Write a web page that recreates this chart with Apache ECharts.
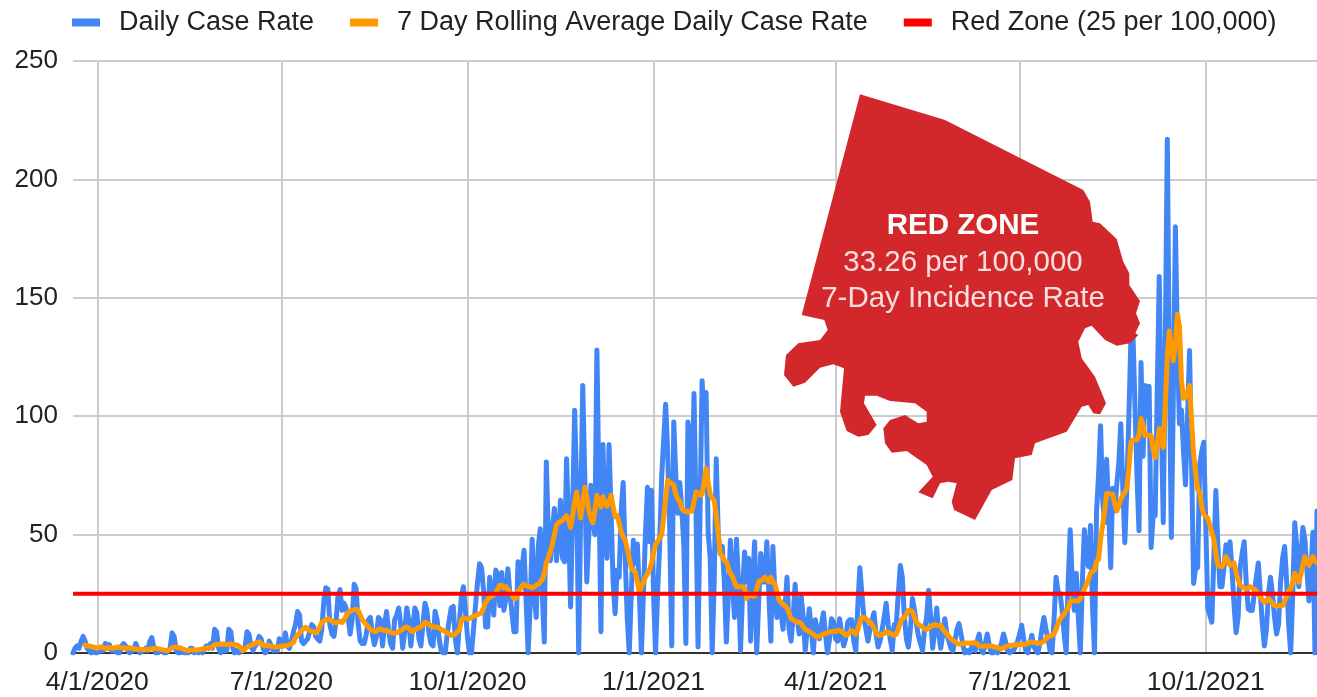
<!DOCTYPE html>
<html><head><meta charset="utf-8">
<style>html,body{margin:0;padding:0;background:#fff}#c{width:1317px;height:697px}</style>
<script src="https://cdn.jsdelivr.net/npm/echarts@6/dist/echarts.min.js"></script>
</head><body><div id="c"></div>
<script>
const firstDay = [2020, 2, 20];
const tickLabels = ['4/1/2020','7/1/2020','10/1/2020','1/1/2021','4/1/2021','7/1/2021','10/1/2021'];
const dailyCaseRate = [
0,2,3,2,5,7,5,2,1,0,
1,0,0,1,1,1,4,2,3.5,1,
1,1,0,0,3,4,3,1,0,1,
1,4,2,0,1,1,2,1,5,6.5,
2,0,0,1,1,0,0,1,2,8.5,
7,1,0,0,1,0,0,0,2,2,
0,1,0,1,0,2,3,2,4,2,
10,9,2,0,2,1,1,10,9,2,
0,1,0,2,1,2,9,8,3,1,
3,4,7,6,2,0,1,5,3,1,
2,1,6,3,3,8.5,3,2,5,9,
12,17.5,16,5,4,5,6,9,12,11,
7,6,5,10,22,27.5,27,12,8,7,
13,24,26.8,18,21,19,15,8,14,29,
27,12,5,4,4,8,14,15,8,3.5,
7,15,14,3,12,17.5,10,4,2,14,
16,19,12,2,9,19,14,3,11,
19,17,6,3,12,21,18,8,4,3,
17.6,14,6,1,0,0,8,14,19,19.7,
6,0,12,24,28,18,7,0,0,10,
20,30,37.7,36,26,11,11,32,24,16,
35,33,20,34,18,23,35.6,25,17,9,
9,38.5,30,36,43.4,22,0,20,48,25,
15,45,52.5,25,4.6,80.7,50,39,52,61,
39,48,64.5,40,38.5,82,55,19.4,60,102.5,
70,0,60,113,75,30,50,70.8,55,50,
128,70,9,88,55,40,88,60,30,16.6,
35,32,60,72,40,15,0,25,47.6,38,
46,25,0,25,50,70,47,68.7,25,0,
25,45,74,90,105,85,52,3,97.6,75,
59,72,60,45,4,97.6,90,60,109.6,60,
2.5,60,115,100,110,51,40,0,30,82,
50,42,45,30,4.6,25,47.6,30,15,48,
30,1,25,42.7,30,40,5,30,47,0,
22,42,30,30,47,25,5,45,25,15,
20,18,10,20,32,10,5,15,29,15,
8,24,15,1,10,18.7,10,0,14,9,
6,12,17,8,0,6,14.5,13,6,5,
14.5,8,3,6,13,14,14,5,1,20,
36,25,15,10,5,10,14,17,8,2.5,
5,10,15,21,12,6,1,12,12,25,
37,32,15,6,2.5,10,23,18,12,7,
4,1,10,15,26.5,15,2,10,19,8,
2,8,14.5,8,5,2,1,5,10,12.4,
8,3,0,1,0,2,4,1,5,8,
1,0,4,8,3,0,0,1,0,2,
4,8,5,1,0,1,1,3,5,8,
11.7,6,1,0,4,7.5,3,1,0,4,
10,15,10,6,1,0,14,32,26,
25,18,8,0,30,52,30,18,33.7,15,
0,30,52,40,36.6,53.8,20,0,59.5,75,
96,65,55,81.8,60,36,69.6,60,71,80,
96.8,70,46.6,70,100,132.7,135,105,75,51.6,
122.7,83,113,100,112.6,44.5,58,58,110,159,
100,55,130,217,120,48.8,110,180,130,96.8,
102.6,85,71,100,127.7,80,29.4,36,36,79.6,
85,89,55,19,16,13,40,68.6,45,28,
28,36,45.7,38,47,35,20,8.6,15,36,
42,47,30,18.6,18,18,25,32,38,25,
12,3,10,25,32,25,15,8,12,30,
40,45,30,12,0,25,55,45,28,40,
53,48,35,22,35,51,0,60
];
const rollingAverage = [
null,null,null,null,null,null,3.3,3,3,2.8,
2.5,2.3,2.1,2.4,2.6,2.2,2,2.1,2.4,2,
2,2.3,2.5,2.4,2.2,2.1,1.9,2.1,2.2,2,
1.8,1.7,1.6,1.6,1.5,1.4,1.5,1.6,1.7,1.8,
1.9,2,1.8,1.6,1.4,1.2,1,1.1,1.5,2.3,
2.5,2.5,2.3,2.2,1.8,1.4,1.2,1.1,1.2,1.4,
1.3,1.3,1.4,1.5,1.7,1.9,2,2.2,2.4,2.6,
3.5,3.6,3.6,3.7,3.8,3.7,3.6,3.7,3.8,3.6,
3.5,3.4,3,2,1,1.8,2.5,3,3.2,3.5,
4,4.5,4.7,4,3.2,3,3.3,3.2,2.8,2.6,
2.5,2.7,2.6,2.9,3.1,3,3.2,3.6,4,4.5,
6.5,7.5,8.5,9.5,10.3,10.8,10,9.5,9.2,9,
8.5,9.5,11,13,13.5,14,14.5,14,13.5,13,
12.7,13,13.5,12.8,14,15.5,17,17.6,18,18.2,
18.5,18,16,14,13,12,11,10,9.5,9,
9.2,10,10.2,9.8,9.5,9.6,9.2,8.8,8.5,8.3,
8.5,9,9.5,10,10.8,11,10.5,9.5,9,
9.8,10.3,10.8,11,12,13,12.5,12,11.5,11,
11,11,10.5,10,9.5,9,8.5,8,7.5,7.5,
8,9,9.5,14,14.8,14.5,14.3,14.5,15,15.5,
15.8,16.2,16.6,17,19,21.5,22.5,23.5,24,24.5,
25.5,27,28.6,28.5,27.5,28,27,25.5,24.5,23,
23,26,27,28,29,28.5,28,28,27.5,28,
28.6,29,30,31,33.5,38,40.5,43,46,50,
54,55,55.5,56,57,58,56,53,58,64,
68,62,57,63,70,66,60,57,55,60,
66.6,64,61.7,66,63,62,64,66.6,62,57.5,
58,55,51,49,47.6,44,40,36,35,34,
30,25.8,28,30,32,33.5,35,38,42,46,
47,48.5,50,57,65,73,72,71.5,71,67,
65,64,61,60,60,59.5,60,60,64,68,
67.5,66.6,67,72,78,72,67,65.5,64.5,58,
50,42,41,39,38.5,36,33.5,32.5,30,28,
28,28,28,27.5,23,25,24.5,24,24,27,
30,30.7,31,32,31,30,32,30,29,26,
22.5,21.5,20.5,20,19,17,14.5,14,13.5,13,
13,12.4,11,10,9.5,9,8.5,8,7,6.8,
7,7.5,8,8.2,8.5,8.8,9,9.2,9,9.6,
9.4,9,8.5,7.5,7.8,8.8,9.3,8.8,8,10,
13,15,15,14.5,13.5,13,12,10.5,8.5,7.5,
7.5,8,8.2,9,8.8,8.2,7.8,7.5,8,10,
13,14.5,15,16.5,18,18,17.5,15,13,12,
11.5,11,10.2,10,10.5,11,11.7,12,11.7,11.5,
11.7,10,9,8,7,6,5.4,4.8,4,3.7,
3.8,4,4.2,4.2,4.1,4.2,4.3,4.2,4,3,
2.8,2.8,3,3,3,3,2.8,2.5,2.2,2,
1.8,2.2,2.6,3,3.2,3.3,3.4,3.5,3.5,3.7,
3.6,3.7,3.7,4,4.6,4.6,4.4,4.3,4.2,4.2,
4.4,5,6,7,7.2,7.5,8,10,12.5,
14.3,15.5,16.5,18,19,22,22,22,22,22,
23,25,27,29,31,33.7,34.5,35,38.7,39.5,
48,53.8,60,67.4,67.5,67,67,63,60,62,
65,66.5,68,69.6,78,89,90,90,90,92,
99,96,91.8,91.8,91.8,91.8,86,82.5,88,94.7,
90,86.8,105,125,136,128,123.4,130,143,138,
115,107.6,108,110,113,98,84,76,69,68,
62,58.6,57.5,57,54,51,48,42,37,36.6,
36.4,38,40.7,39,37,37.5,38,34,31,28.6,
28,27.5,27,27.5,28,27.5,27,26,25,23.5,
22.5,21.4,22,23,22,21,20,20,20,20,
20,22,24,26.4,27,30,33.6,32,30,33,
37,40.7,38.5,37,39,40.7,39,38
];
const redZoneLevel = 25;
const seriesNames = ['Daily Case Rate','7 Day Rolling Average Daily Case Rate','Red Zone (25 per 100,000)'];
const calloutLines = ['RED ZONE','33.26 per 100,000','7-Day Incidence Rate'];
const mapOutline = [[860,94.3],[945,120],[1083.3,190],[1090,201.7],[1092.7,221.7],[1100,223.3],[1116.7,239],[1123.3,261.7],[1129.3,273.3],[1129.3,285],[1140,301],[1136,313.3],[1140,323.3],[1135.3,333.3],[1138.3,335],[1130,343.3],[1116.7,345.7],[1105,340],[1091.7,325.7],[1085,328.3],[1078.3,341.7],[1081.7,358.3],[1095,376.7],[1106,403.3],[1100,414.3],[1093.3,413.3],[1088.3,405],[1081.7,406.7],[1066.7,431.7],[1035,443.3],[1031.7,455],[1015,458.3],[1012.3,480],[991.7,490],[975,520],[954,510],[951.7,501.7],[956.7,483.3],[948.3,481.7],[940,483.3],[932.7,498.3],[918.3,492.3],[932.7,476.7],[926.7,465],[906.7,451],[891.7,452.7],[885,443.3],[883.3,428.3],[890,420],[905,415],[918.3,423.3],[926.7,421.7],[926.7,411.7],[915,403.3],[890,401],[876.7,395.7],[865,395.7],[864,403.3],[876.7,425],[868.3,435],[858.3,436.7],[846.7,431],[840,411.7],[844,368.3],[833.3,364.3],[820,367.7],[805,382.7],[793.3,386.7],[784,375],[786,355],[798.3,343.3],[820,340],[827.7,330],[824.3,320],[801.7,315]];

const dayCount = 616;
const categories = [];
for (let i = 0; i < dayCount; i++) {
  const d = new Date(firstDay[0], firstDay[1], firstDay[2] + i);
  categories.push((d.getMonth()+1) + '/' + d.getDate() + '/' + d.getFullYear());
}
const redZone = categories.map(() => redZoneLevel);
const isTick = (i, v) => tickLabels.includes(v);
const font = '"Liberation Sans", Arial, sans-serif';
const chart = echarts.init(document.getElementById('c'), null, {renderer:'canvas'});
chart.setOption({
  animation:false,
  backgroundColor:'#fff',
  legend:{
    left:67, top:4, icon:'rect', itemWidth:28, itemHeight:8, itemGap:36,
    textStyle:{fontFamily:font, fontSize:27, color:'#222', padding:[0,0,0,14]},
    data:seriesNames
  },
  grid:{left:73, right:0, top:61, bottom:44, containLabel:false},
  xAxis:{
    type:'category', data:categories, boundaryGap:false,
    axisLine:{show:true, onZero:false, lineStyle:{color:'#333', width:2}},
    axisTick:{show:false},
    axisLabel:{interval:isTick, hideOverlap:false, margin:16, fontFamily:font, fontSize:26.5, color:'#222'},
    splitLine:{show:true, interval:isTick, lineStyle:{color:'#ccc', width:2}}
  },
  yAxis:{
    type:'value', min:0, max:250, interval:50,
    axisLine:{show:false}, axisTick:{show:false},
    axisLabel:{margin:15, fontFamily:font, fontSize:26, color:'#222', padding:[8,0,0,0]},
    splitLine:{show:true, lineStyle:{color:'#ccc', width:2}}
  },
  series:[
    {name:seriesNames[0], type:'line', data:dailyCaseRate.slice(0,dayCount), showSymbol:false, smooth:false, itemStyle:{color:'#4285f4'}, lineStyle:{color:'#4285f4', width:5, join:'round', cap:'round'}, z:2},
    {name:seriesNames[1], type:'line', data:rollingAverage.slice(0,dayCount), showSymbol:false, smooth:false, connectNulls:false, itemStyle:{color:'#ff9900'}, lineStyle:{color:'#ff9900', width:5, join:'round', cap:'round'}, z:3},
    {name:seriesNames[2], type:'line', data:redZone, showSymbol:false, itemStyle:{color:'#ff0000'}, lineStyle:{color:'#ff0000', width:4}, z:4}
  ],
  graphic:[
    {type:'polygon', z:100, shape:{points:mapOutline}, style:{fill:'#d3282b'}},
    {type:'text', z:101, x:963, y:226, style:{text:calloutLines[0], fill:'#ffffff', font:'bold 29.5px '+font, textAlign:'center', textVerticalAlign:'middle'}},
    {type:'text', z:101, x:963, y:263, style:{text:calloutLines[1], fill:'#f8dede', font:'29.5px '+font, textAlign:'center', textVerticalAlign:'middle'}},
    {type:'text', z:101, x:963, y:299, style:{text:calloutLines[2], fill:'#f8dede', font:'29.5px '+font, textAlign:'center', textVerticalAlign:'middle'}}
  ]
});
</script></body></html>
